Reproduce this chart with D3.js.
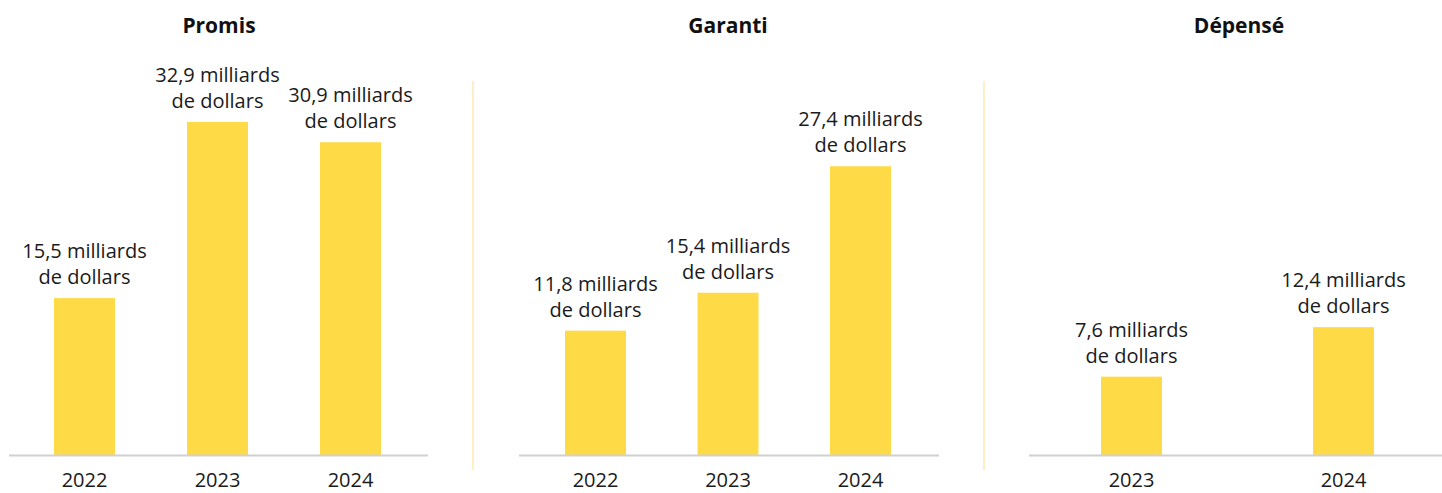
<!DOCTYPE html>
<html><head><meta charset="utf-8">
<script src="https://cdn.jsdelivr.net/npm/d3@7"></script>
<style>body{margin:0;background:#fff}svg{display:block}</style>
</head><body>
<script>
const panelTitles = ["Promis", "Garanti", "Dépensé"];
const promisYears = ["2022", "2023", "2024"];
const promisValues = [15.5, 32.9, 30.9];
const garantiYears = ["2022", "2023", "2024"];
const garantiValues = [11.8, 15.4, 27.4];
const depenseYears = ["2023", "2024"];
const depenseValues = [7.6, 12.4];
const unitLine1 = " milliards";
const unitLine2 = "de dollars";

const W = 1442, H = 493;
const svg = d3.select("body").append("svg").attr("width", W).attr("height", H);
const font = "'Open Sans', 'Noto Sans', sans-serif";
const baseY = 455, topY = 122;
const panels = [
  {title: panelTitles[0], years: promisYears, values: promisValues, xr: [18, 417], axis: [9, 428], tx: 219, ymax: 32.9},
  {title: panelTitles[1], years: garantiYears, values: garantiValues, xr: [529.25, 926.75], axis: [519, 939], tx: 728, ymax: 31.6},
  {title: panelTitles[2], years: depenseYears, values: depenseValues, xr: [1025.5, 1449.5], axis: [1029, 1442], tx: 1239, ymax: 32.3}
];
const fmt = v => d3.format(".1f")(v).replace(".", ",");
const barW = 61;

// separators
[473, 984].forEach(x => svg.append("line").attr("x1", x).attr("x2", x).attr("y1", 81).attr("y2", 470)
  .attr("stroke", "#fdf0c4").attr("stroke-width", 2));

panels.forEach(p => {
  const x = d3.scalePoint().domain(p.years).range(p.xr).padding(0.5);
  const y = d3.scaleLinear().domain([0, p.ymax]).range([baseY, topY]);
  const g = svg.append("g");
  g.append("text").attr("x", p.tx).attr("y", 33).attr("text-anchor", "middle")
    .attr("font-family", font).attr("font-weight", 700).attr("font-size", 21).attr("fill", "#111").text(p.title);
  const data = p.years.map((yr, i) => ({yr, v: p.values[i]}));
  g.selectAll("rect").data(data).join("rect")
    .attr("x", d => x(d.yr) - barW / 2).attr("width", barW)
    .attr("y", d => y(d.v)).attr("height", d => baseY - y(d.v))
    .attr("fill", "#fedb46");
  g.append("line").attr("x1", p.axis[0]).attr("x2", p.axis[1]).attr("y1", baseY + 0.5).attr("y2", baseY + 0.5)
    .attr("stroke", "#d0d0d0").attr("stroke-width", 2);
  const lab = g.selectAll("text.lab").data(data).join("text").attr("class", "lab")
    .attr("text-anchor", "middle").attr("font-family", font).attr("font-size", 20).attr("fill", "#1a1a1a");
  lab.append("tspan").attr("x", d => x(d.yr)).attr("y", d => y(d.v) - 40).text(d => fmt(d.v) + unitLine1);
  lab.append("tspan").attr("x", d => x(d.yr)).attr("y", d => y(d.v) - 14).text(unitLine2);
  g.selectAll("text.yr").data(data).join("text").attr("class", "yr")
    .attr("x", d => x(d.yr)).attr("y", 487).attr("text-anchor", "middle")
    .attr("font-family", font).attr("font-size", 20).attr("fill", "#1a1a1a").text(d => d.yr);
});
</script>
</body></html>
